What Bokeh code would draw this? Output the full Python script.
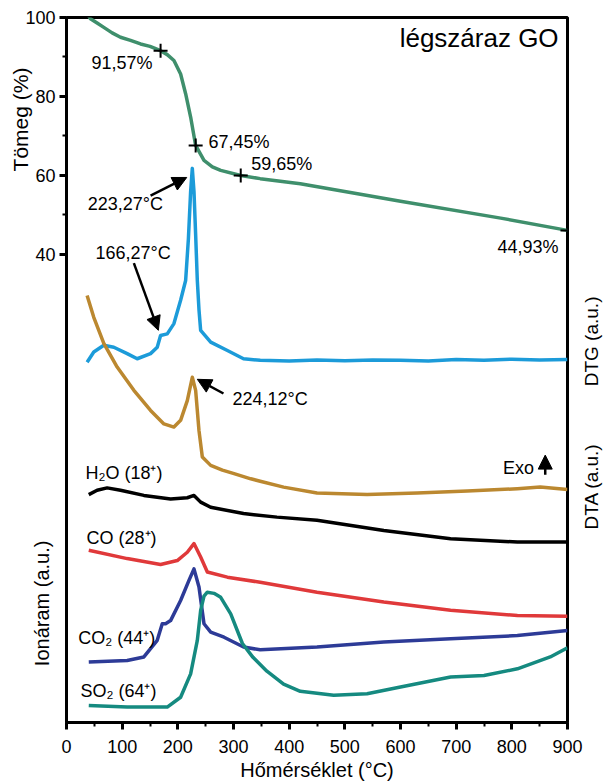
from math import pi
from bokeh.plotting import figure
from bokeh.models import Range1d, FixedTicker, Label, Arrow, NormalHead
from bokeh.embed import file_html
from bokeh.resources import INLINE

# ---------------- data ----------------
tg_t = [40, 43, 55, 67, 82, 97, 115, 133, 150, 169, 181, 193, 205, 214, 223, 232, 247, 262, 277,
        313, 348, 420, 600, 780, 900]
tg_v = [100.3, 99.7, 98.6, 97.5, 96.1, 95.0, 94.2, 93.3, 92.7, 91.6, 90.6, 89.1, 85.7, 80.7, 74.8,
        67.6, 63.8, 62.2, 61.3, 60.0, 59.2, 57.9, 53.5, 49.2, 46.1]
tg_mark_t = [169, 232, 313, 900]
tg_mark_v = [91.6, 67.6, 60.0, 46.1]
tg_mark_labels = ["91,57%", "67,45%", "59,65%", "44,93%"]

dtg_t = [37, 49, 67, 85, 109, 127, 151, 163, 169, 181, 193, 205, 214, 219, 223, 226, 229, 232, 235,
         238, 241, 259, 289, 318, 348, 400, 450, 500, 550, 600, 650, 700, 750, 800, 850, 900]
dtg_v = [12.7, 15.3, 17.0, 16.5, 14.9, 13.6, 14.9, 16.5, 19.5, 19.9, 22.5, 28.4, 33.4, 44.0, 56.0,
         61.8, 56.0, 45.0, 33.4, 26.0, 20.8, 17.8, 15.7, 13.6, 13.2, 13.0, 13.3, 13.1, 13.3, 13.2,
         13.0, 13.4, 13.2, 13.5, 13.3, 13.4]

dta_t = [37, 49, 67, 91, 121, 151, 175, 193, 205, 217, 226, 232, 238, 244, 259, 280, 301, 331, 348,
         390, 450, 540, 630, 720, 810, 851, 900]
dta_v = [29.6, 24.1, 17.5, 11.5, 5.6, 0.5, -2.9, -3.7, -2.0, 3.0, 8.9, 5.6, -4.6, -11.3, -13.4,
         -14.6, -15.5, -16.8, -17.4, -18.9, -20.4, -20.8, -20.4, -19.9, -19.3, -18.9, -19.5]

h2o_t = [40, 55, 73, 97, 139, 187, 217, 229, 241, 259, 318, 378, 450, 570, 690, 810, 900]
h2o_v = [-20.8, -19.7, -19.1, -19.7, -21.0, -21.9, -21.6, -21.0, -22.7, -24.0, -25.6, -26.5, -27.3,
         -29.9, -32.0, -32.8, -32.8]

co_t = [40, 109, 169, 199, 217, 229, 241, 253, 289, 348, 450, 570, 690, 810, 900]
co_v = [-34.9, -37.0, -38.5, -37.5, -35.4, -33.2, -36.6, -40.4, -41.7, -43.0, -45.5, -48.0, -50.1,
        -51.4, -51.6]

co2_t = [40, 109, 139, 163, 172, 178, 187, 205, 220, 229, 238, 247, 259, 283, 318, 348, 450, 570,
         690, 810, 900]
co2_v = [-63.2, -62.8, -61.9, -57.7, -53.5, -53.5, -52.7, -47.6, -42.5, -39.6, -44.2, -53.5, -55.6,
         -56.9, -59.4, -60.1, -59.4, -58.1, -57.3, -56.5, -55.2]

so2_t = [40, 109, 181, 205, 223, 235, 241, 247, 253, 265, 277, 295, 316, 335, 360, 390, 420, 480,
         540, 600, 690, 750, 810, 869, 900]
so2_v = [-74.2, -74.6, -74.6, -72.1, -66.2, -57.7, -50.1, -46.5, -45.5, -45.8, -46.8, -51.0, -58.5,
         -62.0, -65.5, -68.8, -70.6, -71.6, -71.2, -69.5, -67.0, -66.6, -64.9, -61.9, -59.6]

x_ticks = list(range(0, 901, 100))
x_minor = list(range(50, 900, 100))
y_ticks = [40, 60, 80, 100]
y_minor = [50, 70, 90]

NB = "\u00a0"
FONT = "Liberation Sans"

p = figure(width=603, height=783, x_range=Range1d(0, 900), y_range=Range1d(-78.5, 100),
           output_backend="svg", toolbar_location=None,
           min_border_left=66, min_border_right=36, min_border_top=17, min_border_bottom=61)
p.grid.visible = False
p.outline_line_color = "black"
p.outline_line_width = 3
p.background_fill_color = "white"

for ax in (p.xaxis[0], p.yaxis[0]):
    ax.axis_line_width = 3
    ax.axis_line_color = "black"
    ax.major_tick_line_width = 3
    ax.major_tick_out = 7
    ax.major_tick_in = 0
    ax.minor_tick_out = 4
    ax.minor_tick_in = 0
    ax.minor_tick_line_width = 2
    ax.major_label_text_font = FONT
    ax.major_label_text_font_size = "18px"
    ax.major_label_text_color = "black"

p.xaxis[0].ticker = FixedTicker(ticks=x_ticks, minor_ticks=x_minor)
p.yaxis[0].ticker = FixedTicker(ticks=y_ticks, minor_ticks=y_minor)
p.xaxis[0].major_label_standoff = 10
p.yaxis[0].major_label_standoff = 4
p.xaxis[0].axis_label = "Hőmérséklet (°C)"
p.xaxis[0].axis_label_text_font = FONT
p.xaxis[0].axis_label_text_font_style = "normal"
p.xaxis[0].axis_label_text_font_size = "20px"
p.xaxis[0].axis_label_text_color = "black"
p.xaxis[0].axis_label_standoff = 3

# y-axis title for the ion-current block (lower part of the left side)
p.yaxis[0].axis_label = "Ionáram (a.u.)" + NB * 84
p.yaxis[0].axis_label_text_font = FONT
p.yaxis[0].axis_label_text_font_style = "normal"
p.yaxis[0].axis_label_text_font_size = "20px"
p.yaxis[0].axis_label_text_color = "black"
p.yaxis[0].axis_label_standoff = -31

LW = 3.5
p.line(tg_t, tg_v, line_color="#3f8f6c", line_width=LW, line_join="round")
p.line(dtg_t, dtg_v, line_color="#1c9bd9", line_width=LW, line_join="round")
p.line(dta_t, dta_v, line_color="#bb8830", line_width=LW, line_join="round")
p.line(h2o_t, h2o_v, line_color="#000000", line_width=LW, line_join="round")
p.line(co_t, co_v, line_color="#e0393a", line_width=LW, line_join="round")
p.line(co2_t, co2_v, line_color="#2d3b97", line_width=LW, line_join="round")
p.line(so2_t, so2_v, line_color="#158a80", line_width=LW, line_join="round")
p.scatter(tg_mark_t, tg_mark_v, marker="cross", size=14, line_color="black", line_width=2)

def mk(x, y, t, size="18px", align="left", angle=0.0, units="data"):
    return Label(x=x, y=y, text=t, text_font=FONT, text_font_size=size,
                 text_align=align, text_baseline="middle", angle=angle,
                 text_color="black", x_units=units, y_units=units)

def lab(*a, **k):
    p.add_layout(mk(*a, **k))

lab(45, 88.4, tg_mark_labels[0])
lab(255, 68.4, tg_mark_labels[1])
lab(332, 63.0, tg_mark_labels[2])
lab(884, 41.8, tg_mark_labels[3], align="right")
lab(884, 94.9, "légszáraz GO", size="26px", align="right")
lab(38, 52.9, "223,27°C")
lab(52, 40.5, "166,27°C")
lab(298, 3.5, "224,12°C")
lab(840, -14.0, "Exo", align="right")
lab(34, -15.4, "H₂O (18⁺)")
lab(36, -31.9, "CO (28⁺)")
lab(21, -57.0, "CO₂ (44⁺)")
lab(25, -70.4, "SO₂ (64⁺)")

# titles beside the frame, placed in the side panels (canvas pixels)
p.add_layout(mk(20, 119, "Tömeg (%)", size="21px", align="center", angle=pi / 2, units="canvas"), "left")
p.add_layout(mk(591, 412, "DTA (a.u.)" + NB * 11 + "DTG (a.u.)", size="19px", align="center",
                angle=pi / 2, units="canvas"), "right")

def arrow(x0, y0, x1, y1):
    p.add_layout(Arrow(x_start=x0, y_start=y0, x_end=x1, y_end=y1, line_width=2.5,
                       line_color="black",
                       end=NormalHead(size=14, fill_color="black", line_color="black")))

arrow(151, 54.9, 216, 59.5)
arrow(121, 37.8, 165, 20.8)
arrow(282, 4.8, 235, 8.4)
arrow(860, -15.8, 860, -10.8)

open("out.html", "w").write(file_html(p, INLINE))
